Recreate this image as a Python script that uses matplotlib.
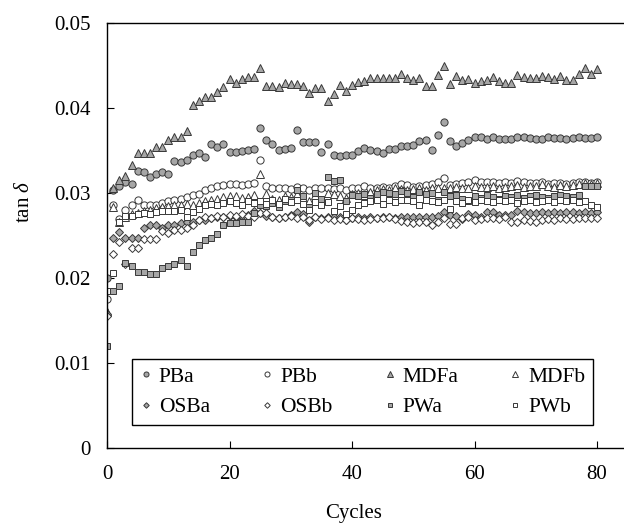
import numpy as np
import matplotlib
matplotlib.use("Agg")
from matplotlib import pyplot as plt

plt.rcParams['font.family'] = ['Liberation Serif', 'DejaVu Serif']
plt.rcParams['mathtext.fontset'] = 'custom'
plt.rcParams['mathtext.rm'] = 'Liberation Serif'
plt.rcParams['mathtext.it'] = 'Liberation Serif:italic'

cycles = np.arange(0, 81)

# tan delta values, cycles 0..80
PBa = [0.0200, 0.0303, 0.0308, 0.0312, 0.0310, 0.0326, 0.0324, 0.0319, 0.0322, 0.0324, 0.0322,
       0.0337, 0.0336, 0.0339, 0.0344, 0.0347, 0.0342, 0.0357, 0.0354, 0.0357, 0.0348,
       0.0348, 0.0349, 0.0350, 0.0351, 0.0376, 0.0362, 0.0357, 0.0350, 0.0351, 0.0353,
       0.0374, 0.0359, 0.0360, 0.0360, 0.0348, 0.0357, 0.0344, 0.0343, 0.0344, 0.0344,
       0.0349, 0.0352, 0.0350, 0.0349, 0.0347, 0.0351, 0.0351, 0.0355, 0.0355, 0.0356,
       0.0361, 0.0362, 0.0350, 0.0368, 0.0383, 0.0361, 0.0355, 0.0358, 0.0362, 0.0365,
       0.0365, 0.0363, 0.0365, 0.0363, 0.0363, 0.0363, 0.0365, 0.0365, 0.0364, 0.0363,
       0.0363, 0.0365, 0.0364, 0.0364, 0.0363, 0.0364, 0.0365, 0.0364, 0.0364, 0.0365]

PBb = [0.0175, 0.0285, 0.0269, 0.0280, 0.0285, 0.0291, 0.0286, 0.0285, 0.0286, 0.0288, 0.0290,
       0.0291, 0.0293, 0.0295, 0.0297, 0.0298, 0.0303, 0.0306, 0.0308, 0.0309, 0.0310,
       0.0310, 0.0309, 0.0310, 0.0311, 0.0338, 0.0308, 0.0306, 0.0305, 0.0306, 0.0304,
       0.0307, 0.0305, 0.0303, 0.0305, 0.0306, 0.0306, 0.0304, 0.0305, 0.0303, 0.0306,
       0.0305, 0.0308, 0.0306, 0.0305, 0.0307, 0.0306, 0.0308, 0.0310, 0.0309, 0.0307,
       0.0308, 0.0309, 0.0310, 0.0312, 0.0317, 0.0309, 0.0310, 0.0311, 0.0312, 0.0315,
       0.0313, 0.0313, 0.0313, 0.0311, 0.0312, 0.0311, 0.0314, 0.0312, 0.0311, 0.0311,
       0.0312, 0.0310, 0.0311, 0.0311, 0.0310, 0.0311, 0.0312, 0.0312, 0.0311, 0.0312]

MDFa = [0.0160, 0.0305, 0.0315, 0.0320, 0.0333, 0.0347, 0.0347, 0.0347, 0.0354, 0.0354, 0.0362,
        0.0366, 0.0366, 0.0373, 0.0403, 0.0408, 0.0413, 0.0413, 0.0418, 0.0424, 0.0434,
        0.0429, 0.0434, 0.0436, 0.0436, 0.0446, 0.0425, 0.0425, 0.0424, 0.0429, 0.0428,
        0.0428, 0.0425, 0.0417, 0.0423, 0.0423, 0.0408, 0.0416, 0.0427, 0.0419, 0.0427,
        0.0430, 0.0431, 0.0435, 0.0435, 0.0435, 0.0435, 0.0435, 0.0439, 0.0435, 0.0432,
        0.0435, 0.0425, 0.0425, 0.0438, 0.0449, 0.0428, 0.0437, 0.0433, 0.0434, 0.0429,
        0.0431, 0.0432, 0.0436, 0.0431, 0.0429, 0.0429, 0.0438, 0.0436, 0.0435, 0.0435,
        0.0437, 0.0436, 0.0434, 0.0437, 0.0433, 0.0433, 0.0440, 0.0447, 0.0440, 0.0445]

MDFb = [0.0160, 0.0283, 0.0265, 0.0272, 0.0275, 0.0276, 0.0278, 0.0280, 0.0282, 0.0283, 0.0284,
        0.0285, 0.0286, 0.0287, 0.0285, 0.0288, 0.0290, 0.0292, 0.0293, 0.0295, 0.0296,
        0.0296, 0.0294, 0.0295, 0.0297, 0.0322, 0.0298, 0.0293, 0.0291, 0.0296, 0.0295,
        0.0298, 0.0294, 0.0290, 0.0297, 0.0292, 0.0300, 0.0298, 0.0296, 0.0294, 0.0299,
        0.0300, 0.0297, 0.0301, 0.0303, 0.0304, 0.0303, 0.0305, 0.0304, 0.0303, 0.0304,
        0.0305, 0.0303, 0.0305, 0.0306, 0.0306, 0.0306, 0.0307, 0.0305, 0.0306, 0.0308,
        0.0307, 0.0307, 0.0308, 0.0306, 0.0307, 0.0308, 0.0309, 0.0307, 0.0308, 0.0308,
        0.0310, 0.0308, 0.0307, 0.0309, 0.0308, 0.0309, 0.0310, 0.0311, 0.0310, 0.0311]

OSBa = [0.0158, 0.0247, 0.0254, 0.0247, 0.0247, 0.0247, 0.0259, 0.0262, 0.0262, 0.0259, 0.0262,
        0.0262, 0.0264, 0.0266, 0.0266, 0.0268, 0.0268, 0.0270, 0.0271, 0.0272, 0.0273,
        0.0272, 0.0273, 0.0274, 0.0279, 0.0276, 0.0273, 0.0271, 0.0270, 0.0272, 0.0274,
        0.0277, 0.0275, 0.0265, 0.0272, 0.0270, 0.0272, 0.0271, 0.0272, 0.0268, 0.0270,
        0.0271, 0.0270, 0.0271, 0.0270, 0.0272, 0.0271, 0.0270, 0.0271, 0.0271, 0.0272,
        0.0271, 0.0272, 0.0271, 0.0273, 0.0277, 0.0274, 0.0273, 0.0269, 0.0275, 0.0274,
        0.0272, 0.0277, 0.0277, 0.0274, 0.0274, 0.0274, 0.0278, 0.0277, 0.0276, 0.0276,
        0.0277, 0.0276, 0.0277, 0.0276, 0.0277, 0.0277, 0.0276, 0.0277, 0.0276, 0.0277]

OSBb = [0.0155, 0.0228, 0.0242, 0.0216, 0.0235, 0.0235, 0.0246, 0.0246, 0.0246, 0.0255, 0.0253,
        0.0256, 0.0256, 0.0258, 0.0262, 0.0268, 0.0272, 0.0270, 0.0273, 0.0272, 0.0274,
        0.0273, 0.0275, 0.0273, 0.0272, 0.0276, 0.0276, 0.0272, 0.0270, 0.0272, 0.0273,
        0.0270, 0.0271, 0.0268, 0.0272, 0.0269, 0.0270, 0.0268, 0.0269, 0.0268, 0.0270,
        0.0269, 0.0268, 0.0269, 0.0270, 0.0270, 0.0271, 0.0269, 0.0267, 0.0266, 0.0264,
        0.0266, 0.0265, 0.0262, 0.0265, 0.0270, 0.0263, 0.0263, 0.0270, 0.0271, 0.0268,
        0.0269, 0.0270, 0.0270, 0.0269, 0.0271, 0.0266, 0.0266, 0.0268, 0.0267, 0.0266,
        0.0268, 0.0269, 0.0268, 0.0270, 0.0269, 0.0269, 0.0270, 0.0270, 0.0270, 0.0270]

PWa = [0.0120, 0.0184, 0.0190, 0.0217, 0.0214, 0.0207, 0.0207, 0.0204, 0.0205, 0.0212, 0.0214,
       0.0216, 0.0221, 0.0214, 0.0230, 0.0239, 0.0245, 0.0247, 0.0251, 0.0262, 0.0264,
       0.0264, 0.0266, 0.0266, 0.0276, 0.0285, 0.0284, 0.0288, 0.0283, 0.0290, 0.0292,
       0.0303, 0.0296, 0.0283, 0.0300, 0.0293, 0.0319, 0.0314, 0.0315, 0.0290, 0.0297,
       0.0296, 0.0298, 0.0294, 0.0299, 0.0301, 0.0300, 0.0299, 0.0302, 0.0300, 0.0295,
       0.0301, 0.0298, 0.0300, 0.0292, 0.0301, 0.0296, 0.0297, 0.0293, 0.0290, 0.0296,
       0.0294, 0.0297, 0.0295, 0.0293, 0.0296, 0.0295, 0.0297, 0.0294, 0.0296, 0.0297,
       0.0295, 0.0294, 0.0296, 0.0297, 0.0296, 0.0295, 0.0297, 0.0308, 0.0308, 0.0308]

PWb = [0.0185, 0.0206, 0.0265, 0.0273, 0.0273, 0.0275, 0.0276, 0.0275, 0.0277, 0.0279, 0.0279,
       0.0279, 0.0280, 0.0272, 0.0277, 0.0281, 0.0285, 0.0287, 0.0286, 0.0288, 0.0290,
       0.0288, 0.0286, 0.0290, 0.0288, 0.0290, 0.0287, 0.0291, 0.0287, 0.0293, 0.0289,
       0.0291, 0.0287, 0.0280, 0.0289, 0.0285, 0.0289, 0.0278, 0.0284, 0.0275, 0.0280,
       0.0286, 0.0288, 0.0290, 0.0292, 0.0287, 0.0291, 0.0289, 0.0292, 0.0291, 0.0290,
       0.0285, 0.0291, 0.0290, 0.0289, 0.0292, 0.0281, 0.0290, 0.0288, 0.0291, 0.0289,
       0.0291, 0.0290, 0.0289, 0.0292, 0.0290, 0.0291, 0.0288, 0.0290, 0.0291, 0.0289,
       0.0290, 0.0291, 0.0289, 0.0291, 0.0290, 0.0291, 0.0289, 0.0290, 0.0285, 0.0283]

names = ['PBa', 'PBb', 'MDFa', 'MDFb', 'OSBa', 'OSBb', 'PWa', 'PWb']
data = [PBa, PBb, MDFa, MDFb, OSBa, OSBb, PWa, PWb]
markers = ['o', 'o', '^', '^', 'D', 'D', 's', 's']
sizes = [5.2, 5.2, 5.6, 5.6, 4.0, 4.0, 4.8, 4.8]
grey = '#a6a6a6'
edge = '#383838'
fills = [grey, 'white'] * 4

fig = plt.figure(figsize=(6.24, 5.26), dpi=100)
ax = fig.add_axes([107/624, 78/526, 517/624, 425.5/526])

handles = []
for name, y, m, ms, fc in zip(names, data, markers, sizes, fills):
    h, = ax.plot(cycles, y, linestyle='none', marker=m, ms=ms, mfc=fc,
                 mec=edge, mew=0.7, label=name)
    handles.append(h)

ax.set_xlim(0, 84.4)
ax.set_ylim(0, 0.05)
ax.set_xticks([0, 20, 40, 60, 80])
ax.set_yticks([0, 0.01, 0.02, 0.03, 0.04, 0.05])
ax.set_yticklabels(['0', '0.01', '0.02', '0.03', '0.04', '0.05'])
ax.tick_params(direction='in', length=5, width=0.8, labelsize=15, pad=12)
ax.spines['right'].set_visible(False)
for s in ['left', 'bottom', 'top']:
    ax.spines[s].set_linewidth(1.0)

ax.set_xlabel('Cycles', fontsize=15, va='center')
ax.xaxis.set_label_coords(0.476, -0.153)
ax.set_ylabel(r'tan $\delta$', fontsize=15, va='center', ha='center')
ax.yaxis.set_label_coords(-0.159, 0.58)

# legend fills column by column, so interleave to get rows PBa..MDFb / OSBa..PWb
order = [0, 4, 1, 5, 2, 6, 3, 7]
leg = ax.legend([handles[i] for i in order], [names[i] for i in order],
                ncol=4, loc='lower left', mode='expand',
                bbox_to_anchor=(0.0484, 0.054, 0.8916, 0.16), borderaxespad=0,
                fontsize=15.5, markerscale=0.7, handlelength=0.6, handletextpad=0.3,
                borderpad=0.35, frameon=True, fancybox=False, edgecolor='black',
                framealpha=1, labelspacing=0.5)
leg._legend_box.align = 'left'
leg.get_frame().set_linewidth(1.0)

fig.savefig('out.png', dpi=100)
